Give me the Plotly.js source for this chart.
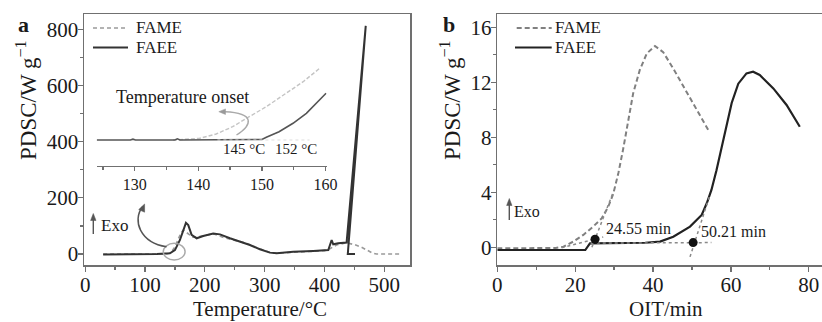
<!DOCTYPE html>
<html>
<head>
<meta charset="utf-8">
<script src="https://cdn.plot.ly/plotly-3.0.1.min.js"></script>
<style>html,body{margin:0;padding:0;background:#fff;}#chart{width:822px;height:322px;}</style>
</head>
<body>
<div id="chart"></div>
<script>
// ---------- Panel a : PDSC vs temperature ----------
const aFameX = [30, 60, 90, 120, 135, 140, 145, 150, 155, 160, 164, 170, 180, 190, 200, 214, 230, 250, 270, 290, 310, 320, 350, 380, 400, 410, 420, 437, 451, 462, 471, 480, 487, 526];
const aFameY = [0, 0, 0, 0, 0, 3, 10, 25, 50, 75, 85, 75, 60, 62, 66, 72, 60, 48, 38, 20, 5, 3, 7, 10, 12, 20, 32, 40, 33, 24, 13, 4, 0, 0];
const aFaeeX = [30, 60, 92, 120, 141.6, 150, 158.4, 168.4, 172.3, 177.9, 186.3, 197.3, 214, 225.3, 242, 258.7, 275.4, 292, 308.8, 320, 347.9, 381.3, 406.4, 412, 414.7, 423, 434.3, 437, 469, 439, 451];
const aFaeeY = [-2, -2, -1, 0, 2.5, 14, 50, 111, 103, 68, 56, 64, 73, 70, 56, 44, 32, 17, 5, 2.5, 8, 11, 14, 50, 34.5, 38, 41.6, 41, 812, 0, 0];
const aXTicks = [0, 100, 200, 300, 400, 500];
const aYTicks = [0, 200, 400, 600, 800];

// inset (zoom of onset region, relative signal)
const inFameX = [136, 140.2, 142.8, 145.4, 148, 150.7, 153.8, 156.5, 159.1];
const inFameY = [0, 1.7, 6, 13.3, 23.3, 33.3, 46.7, 58.3, 71.7];
const inFaeeX = [124, 129.3, 129.7, 130.1, 136.3, 136.7, 137.1, 145, 150, 150.7, 152.7, 154.9, 157, 160.1];
const inFaeeY = [0, 0, 0.8, 0, 0, 1.2, 0, 0, 0.5, 2.7, 8.3, 16.7, 26.7, 46.7];
const inXTicks = [130, 140, 150, 160];
const onsetLabels = ['145 °C', '152 °C'];
const onsetLabelX = [147.2, 155.4];

// ---------- Panel b : PDSC vs OIT ----------
const bFameX = [0, 5, 10, 15, 17, 19.5, 22.1, 24.6, 26.8, 28.5, 29.8, 31.1, 32.3, 33.6, 34.9, 36.6, 38.4, 40.5, 42.6, 45.2, 47.8, 50.3, 52.5, 54.2];
const bFameY = [-0.08, -0.08, -0.08, -0.05, 0.04, 0.41, 0.9, 1.5, 2.1, 2.95, 3.9, 5.4, 7.1, 9.3, 11.2, 12.9, 14.1, 14.64, 14.2, 13.0, 11.7, 10.5, 9.4, 8.53];
const bFaeeX = [0, 10, 20, 22.6, 23.8, 30, 38, 41.8, 45.2, 49.5, 52.5, 53.8, 55.0, 56.3, 57.6, 58.9, 60.2, 61.9, 64.0, 65.7, 67.4, 70.9, 74.3, 77.7];
const bFaeeY = [-0.2, -0.2, -0.2, -0.2, 0.28, 0.3, 0.33, 0.41, 0.77, 1.5, 2.35, 3.2, 4.17, 5.6, 7.3, 9.0, 10.5, 11.9, 12.65, 12.77, 12.53, 11.56, 10.35, 8.77];
const bOnsetX = [25.1, 50.3];
const bOnsetY = [0.58, 0.34];
const bOnsetText = ['24.55 min', '50.21 min'];
const bTangents = [
  {x: [16.5, 27.2], y: [-0.03, 0.75]},
  {x: [24.3, 29.9], y: [0.0, 4.1]},
  {x: [24, 55], y: [0.3, 0.34]},
  {x: [49.5, 54.6], y: [-0.7, 3.8]}
];
const bXTicks = [0, 20, 40, 60, 80];
const bYTicks = [0, 4, 8, 12, 16];
const seriesNames = ['FAME', 'FAEE'];

const serif = 'Liberation Serif, Times New Roman, serif';
const ink = '#1a1a1a';
const axisCol = '#707070';
const fameA = {color: '#9a9a9a', width: 1.6, dash: '4px,3px'};
const faeeA = {color: '#333', width: 2};
const fameB = {color: '#808080', width: 2, dash: '5px,3px'};
const faeeB = {color: '#222', width: 2.2};

const traces = [
  {x: aFameX, y: aFameY, name: seriesNames[0], type: 'scatter', mode: 'lines', xaxis: 'x', yaxis: 'y', showlegend: false, line: fameA},
  {x: aFaeeX, y: aFaeeY, name: seriesNames[1], type: 'scatter', mode: 'lines', xaxis: 'x', yaxis: 'y', showlegend: false, line: faeeA},
  {x: inFameX, y: inFameY, type: 'scatter', mode: 'lines', xaxis: 'x3', yaxis: 'y3', showlegend: false,
   line: {color: '#c4c4c4', width: 1.4, dash: '4px,2px'}},
  {x: inFaeeX, y: inFaeeY, type: 'scatter', mode: 'lines', xaxis: 'x3', yaxis: 'y3', showlegend: false,
   line: {color: '#555', width: 1.6}},
  {x: bFameX, y: bFameY, name: seriesNames[0], type: 'scatter', mode: 'lines', xaxis: 'x2', yaxis: 'y2', showlegend: false, line: fameB},
  {x: bFaeeX, y: bFaeeY, name: seriesNames[1], type: 'scatter', mode: 'lines', xaxis: 'x2', yaxis: 'y2', showlegend: false, line: faeeB}
];
bTangents.forEach(t => traces.push({x: t.x, y: t.y, type: 'scatter', mode: 'lines', xaxis: 'x2', yaxis: 'y2',
  showlegend: false, line: {color: '#8a8a8a', width: 1.5, dash: 'dot'}}));
traces.push({x: bOnsetX, y: bOnsetY, type: 'scatter', mode: 'markers', xaxis: 'x2', yaxis: 'y2', showlegend: false,
  marker: {color: '#111', size: 9}});

function ax(extra) {
  return Object.assign({
    showgrid: false, zeroline: false, showline: true, linecolor: axisCol, linewidth: 1.5,
    ticks: 'outside', ticklen: 5, tickwidth: 1.3, tickcolor: axisCol, ticklabelstandoff: -5,
    tickfont: {family: serif, size: 21, color: ink}
  }, extra);
}
const W = 822, H = 322;
const px = v => v / W, py = v => 1 - v / H;
function txt(text, x, y, size, extra) {
  return Object.assign({text: text, x: px(x), y: py(y), xref: 'paper', yref: 'paper', showarrow: false,
    xanchor: 'center', yanchor: 'middle', font: {size: size, family: serif, color: ink}}, extra || {});
}
function dtxt(text, x, y, xr, yr, size) {
  return {text: text, x: x, y: y, xref: xr, yref: yr, showarrow: false, xanchor: 'center', yanchor: 'middle',
    font: {size: size, family: serif, color: ink}};
}
function legLine(x0, x1, y, line) {
  return {type: 'line', xref: 'paper', yref: 'paper', x0: px(x0), x1: px(x1), y0: py(y), y1: py(y), line: line};
}
function pxLine(x0, y0, x1, y1, color, w) {
  return {type: 'line', xref: 'paper', yref: 'paper', x0: px(x0), y0: py(y0), x1: px(x1), y1: py(y1), line: {color: color, width: w}};
}
function pxTri(pts, color) {
  const d = pts.map((p, i) => (i ? 'L' : 'M') + px(p[0]).toFixed(5) + ',' + py(p[1]).toFixed(5)).join(' ') + ' Z';
  return {type: 'path', xref: 'paper', yref: 'paper', path: d, fillcolor: color, line: {color: color, width: 0.5}};
}

const layout = {
  width: W, height: H, margin: {l: 0, r: 0, t: 0, b: 0},
  paper_bgcolor: '#fff', plot_bgcolor: 'rgba(0,0,0,0)',
  font: {family: serif, color: ink}, showlegend: false,
  xaxis: ax({domain: [px(84), px(410)], range: [-2, 543], tickvals: aXTicks, mirror: true, anchor: 'y',
    minor: {dtick: 50, ticks: 'outside', ticklen: 3, tickcolor: axisCol}}),
  yaxis: ax({domain: [py(265), py(14)], range: [-39, 854], tickvals: aYTicks, mirror: true, anchor: 'x',
    minor: {dtick: 100, ticks: 'outside', ticklen: 3, tickcolor: axisCol}}),
  xaxis2: ax({domain: [px(497.3), 1], range: [0, 83.4], tickvals: bXTicks, mirror: true, anchor: 'y2',
    minor: {dtick: 10, ticks: 'outside', ticklen: 3, tickcolor: axisCol}}),
  yaxis2: ax({domain: [py(265), py(14)], range: [-1.29, 16.97], tickvals: bYTicks, anchor: 'x2',
    minor: {dtick: 2, ticks: 'outside', ticklen: 3, tickcolor: axisCol}}),
  xaxis3: ax({domain: [px(96.7), px(326.7)], range: [124, 160.2], tickvals: inXTicks, anchor: 'y3',
    linewidth: 1.2, ticklen: 4, ticklabelstandoff: 0, tickfont: {family: serif, size: 16, color: ink},
    minor: {dtick: 5, ticks: 'outside', ticklen: 3, tickcolor: axisCol}}),
  yaxis3: {domain: [py(166), py(60)], range: [-26, 80], visible: false, anchor: 'x3'},
  shapes: [
    // legends drawn as line samples
    legLine(93, 128, 28, fameA), legLine(93, 128, 47.5, faeeA),
    legLine(516.7, 551.7, 28, fameB), legLine(515, 551.7, 47.5, faeeB),
    // circle marking onset region in panel a
    {type: 'circle', xref: 'x', yref: 'y', x0: 130.5, x1: 167, y0: -21, y1: 38, line: {color: '#aaa', width: 1.5}},
    // curved pointer from circle to inset
    {type: 'path', xref: 'x', yref: 'y', path: 'M136,26 C92,40 78,120 96,168', line: {color: '#555', width: 1.5}},
    pxTri([[144.6, 204], [144.6, 212.2], [138.7, 209.6]], '#555'),
    // curved pointer in inset
    {type: 'path', xref: 'x3', yref: 'y3', path: 'M146,5 C148.5,15 149,27 144.2,28.3', line: {color: '#aaa', width: 1.4}},
    pxTri([[218.8, 111.7], [225.5, 108.9], [225.5, 114.5]], '#999'),
    // faint baseline extension in inset
    {type: 'line', xref: 'x3', yref: 'y3', x0: 143, x1: 157.5, y0: 0, y1: 0, line: {color: '#ddd', width: 1, dash: 'dot'}},
    // Exo arrows
    pxLine(93.3, 234, 93.3, 220, '#555', 1.4),
    pxTri([[93.3, 213.5], [90.6, 220.5], [96, 220.5]], '#555'),
    pxLine(509.3, 220, 509.3, 205, '#555', 1.4),
    pxTri([[509.3, 198.5], [506.6, 205.5], [512, 205.5]], '#555')
  ],
  annotations: [
    txt(seriesNames[0], 134, 28, 17, {xanchor: 'left'}),
    txt(seriesNames[1], 134, 47.5, 17, {xanchor: 'left'}),
    txt(seriesNames[0], 553.3, 28, 17, {xanchor: 'left'}),
    txt(seriesNames[1], 553.3, 47.5, 17, {xanchor: 'left'}),
    txt('<b>a</b>', 23, 25, 22),
    txt('<b>b</b>', 449, 24, 22),
    txt('Temperature/°C', 260, 308.5, 21),
    txt('OIT/min', 666, 308.5, 21),
    txt('PDSC/W g<sup>−1</sup>', 27, 100, 23, {textangle: -90}),
    txt('PDSC/W g<sup>−1</sup>', 451, 100, 23, {textangle: -90}),
    txt('Exo', 114, 225, 17),
    txt('Exo', 527, 211, 16),
    // inset texts
    dtxt('Temperature onset', 137.5, 42.7, 'x3', 'y3', 18),
    dtxt(onsetLabels[0], onsetLabelX[0], -9, 'x3', 'y3', 15),
    dtxt(onsetLabels[1], onsetLabelX[1], -9, 'x3', 'y3', 15),
    // OIT labels
    dtxt(bOnsetText[0], 36.2, 1.38, 'x2', 'y2', 16),
    dtxt(bOnsetText[1], 60.6, 1.13, 'x2', 'y2', 16)
  ]
};

Plotly.newPlot('chart', traces, layout, {staticPlot: true, displayModeBar: false});
</script>
</body>
</html>
